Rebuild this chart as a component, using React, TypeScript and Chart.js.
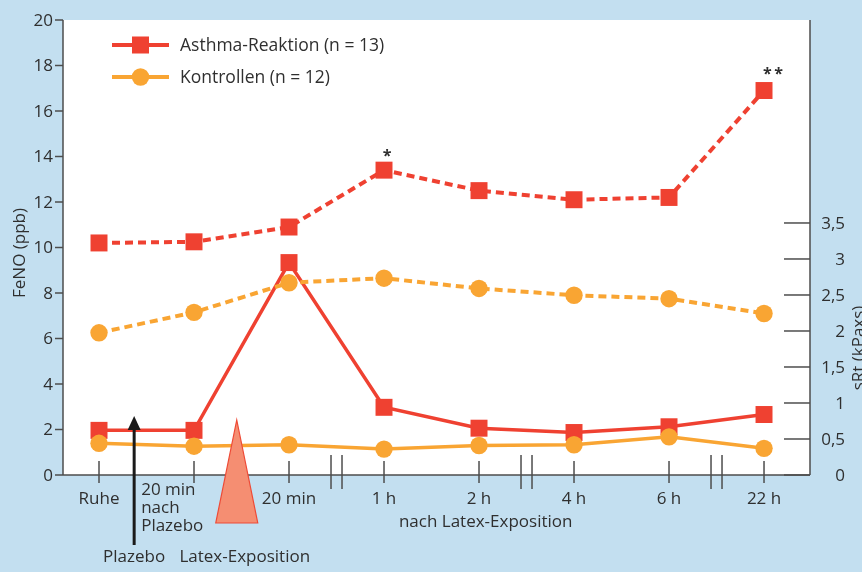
import React, { useEffect, useRef } from "react";
import { Chart, registerables } from "chart.js";

Chart.register(...registerables);

// Time points (category order along the x axis)
const timepoints = ["Ruhe", "20 min nach Plazebo", "20 min", "1 h", "2 h", "4 h", "6 h", "22 h"];
const tickLabelLines: string[][] = [
  ["Ruhe"],
  ["20 min", "nach", "Plazebo"],
  ["20 min"],
  ["1 h"],
  ["2 h"],
  ["4 h"],
  ["6 h"],
  ["22 h"],
];

// FeNO (ppb), left axis
const fenoAsthma = [10.2, 10.25, 10.9, 13.4, 12.5, 12.1, 12.2, 16.9];
const fenoControl = [6.25, 7.15, 8.45, 8.65, 8.2, 7.9, 7.75, 7.1];

// sRt (kPa·s), right axis
const srtAsthma = [0.62, 0.62, 2.95, 0.94, 0.65, 0.59, 0.67, 0.84];
const srtControl = [0.44, 0.4, 0.42, 0.36, 0.41, 0.42, 0.53, 0.37];

const fenoTicks = [0, 2, 4, 6, 8, 10, 12, 14, 16, 18, 20];
const srtTicks = [0, 0.5, 1, 1.5, 2, 2.5, 3, 3.5];
const srtTickLabels = ["0", "0,5", "1", "1,5", "2", "2,5", "3", "3,5"];

// axis is broken between these time points and the next one
const axisBreaksAfter = [2, 4, 6];

// significance marks on the FeNO asthma series
const significance = [
  { index: 3, label: "*" },
  { index: 7, label: "*\u2009*" },
];

const legendEntries = [
  { label: "Asthma-Reaktion (n = 13)", kind: "rect" },
  { label: "Kontrollen (n = 12)", kind: "circle" },
];

const BLUE = "#c3dff0";
const RED = "#ef4131";
const ORANGE = "#f9a533";
const INK = "#2f2f2f";
const AXIS = "#4d4d4d";
const FONT = '"Open Sans", "DejaVu Sans", sans-serif';

const toPoints = (vals: number[]) => vals.map((v, i) => ({ x: i, y: v }));

function strokeLine(ctx: CanvasRenderingContext2D, x1: number, y1: number, x2: number, y2: number) {
  ctx.beginPath();
  ctx.moveTo(x1, y1);
  ctx.lineTo(x2, y2);
  ctx.stroke();
}

const framePlugin = {
  id: "frame",
  beforeDraw(chart: any) {
    const { ctx, chartArea: a, width, height } = chart;
    ctx.save();
    ctx.fillStyle = BLUE;
    ctx.fillRect(0, 0, width, height);
    ctx.fillStyle = "#ffffff";
    ctx.fillRect(a.left, a.top, a.right - a.left, a.bottom - a.top);
    ctx.restore();
  },
  afterDatasetsDraw(chart: any) {
    const { ctx, chartArea: a, scales } = chart;
    const xs = scales.x;
    const yL = scales.yL;
    const yR = scales.yR;
    ctx.save();

    // axis lines
    ctx.strokeStyle = AXIS;
    ctx.lineWidth = 1.5;
    strokeLine(ctx, a.left, a.top, a.left, a.bottom);
    strokeLine(ctx, a.left, a.bottom, a.right, a.bottom);
    strokeLine(ctx, a.right, a.top, a.right, a.bottom);

    // left axis ticks and labels
    ctx.font = `17px ${FONT}`;
    ctx.fillStyle = INK;
    ctx.textAlign = "right";
    ctx.textBaseline = "middle";
    fenoTicks.forEach((v) => {
      const py = yL.getPixelForValue(v);
      strokeLine(ctx, a.left - 8, py, a.left, py);
      ctx.fillText(String(v), a.left - 10, py + 1);
    });

    // right axis ticks (inside) and labels
    srtTicks.forEach((v, i) => {
      const py = yR.getPixelForValue(v);
      strokeLine(ctx, a.right - 26, py, a.right, py);
      ctx.fillText(srtTickLabels[i], a.right + 35, py + 1);
    });

    // x axis ticks
    timepoints.forEach((_, i) => {
      const px = xs.getPixelForValue(i);
      strokeLine(ctx, px, a.bottom - 14, px, a.bottom + 8);
    });

    // axis breaks
    axisBreaksAfter.forEach((b) => {
      const cx = xs.getPixelForValue(b + 0.5);
      strokeLine(ctx, cx - 5.5, a.bottom - 20, cx - 5.5, a.bottom + 14);
      strokeLine(ctx, cx + 5.5, a.bottom - 20, cx + 5.5, a.bottom + 14);
    });

    // placebo arrow
    const arrowX = xs.getPixelForValue(0.37);
    ctx.strokeStyle = "#1a1a1a";
    ctx.fillStyle = "#1a1a1a";
    ctx.lineWidth = 3;
    strokeLine(ctx, arrowX, a.bottom + 70, arrowX, a.bottom - 48);
    ctx.beginPath();
    ctx.moveTo(arrowX, a.bottom - 59);
    ctx.lineTo(arrowX - 6.5, a.bottom - 45);
    ctx.lineTo(arrowX + 6.5, a.bottom - 45);
    ctx.closePath();
    ctx.fill();

    // latex exposure wedge
    const triX = xs.getPixelForValue(1.45);
    ctx.beginPath();
    ctx.moveTo(triX, a.bottom - 55);
    ctx.lineTo(triX + 21, a.bottom + 48);
    ctx.lineTo(triX - 21, a.bottom + 48);
    ctx.closePath();
    ctx.fillStyle = "#f58e72";
    ctx.fill();
    ctx.strokeStyle = "#ee4a36";
    ctx.lineWidth = 1.2;
    ctx.stroke();

    // x tick labels
    ctx.fillStyle = INK;
    ctx.font = `17px ${FONT}`;
    ctx.textBaseline = "alphabetic";
    tickLabelLines.forEach((lines, i) => {
      const px = xs.getPixelForValue(i);
      if (lines.length > 1) {
        ctx.textAlign = "left";
        lines.forEach((t, k) => ctx.fillText(t, arrowX + 7, a.bottom + 20 + k * 18));
      } else {
        ctx.textAlign = "center";
        ctx.fillText(lines[0], px, a.bottom + 29);
      }
    });

    ctx.textAlign = "center";
    ctx.fillText("nach Latex-Exposition", xs.getPixelForValue(4.07), a.bottom + 52);
    ctx.fillText("Plazebo", arrowX, a.bottom + 87);
    ctx.fillText("Latex-Exposition", triX + 8, a.bottom + 87);

    // axis titles
    ctx.save();
    ctx.translate(25, 253);
    ctx.rotate(-Math.PI / 2);
    ctx.textAlign = "center";
    ctx.textBaseline = "alphabetic";
    ctx.fillText("FeNO (ppb)", 0, 0);
    ctx.restore();

    ctx.save();
    ctx.translate(864, 348);
    ctx.rotate(-Math.PI / 2);
    ctx.textAlign = "center";
    ctx.textBaseline = "alphabetic";
    ctx.fillText("sRt (kPaxs)", 0, 0);
    ctx.restore();

    // significance marks
    ctx.font = `bold 16px ${FONT}`;
    ctx.textAlign = "center";
    significance.forEach((s) => {
      const px = xs.getPixelForValue(s.index);
      const py = yL.getPixelForValue(fenoAsthma[s.index]);
      const dx = s.label.length > 1 ? 9 : 3;
      const dy = s.label.length > 1 ? 12 : 9;
      ctx.fillText(s.label, px + dx, py - dy);
    });

    // legend
    ctx.font = `17.5px ${FONT}`;
    ctx.textAlign = "left";
    legendEntries.forEach((e, i) => {
      const ly = a.top + 25 + i * 32;
      const lx = a.left + 49;
      const color = e.kind === "rect" ? RED : ORANGE;
      ctx.strokeStyle = color;
      ctx.fillStyle = color;
      ctx.lineWidth = 4;
      strokeLine(ctx, lx, ly, lx + 57, ly);
      if (e.kind === "rect") {
        ctx.fillRect(lx + 28.5 - 8.5, ly - 8.5, 17, 17);
      } else {
        ctx.beginPath();
        ctx.arc(lx + 28.5, ly, 8.7, 0, Math.PI * 2);
        ctx.fill();
      }
      ctx.fillStyle = INK;
      ctx.fillText(e.label, lx + 68, ly + 6);
    });

    ctx.restore();
  },
};

export default function App() {
  const canvasRef = useRef<HTMLCanvasElement | null>(null);

  useEffect(() => {
    const canvas = canvasRef.current;
    if (!canvas) return;
    const solid = { borderWidth: 3.5, tension: 0, pointBorderWidth: 0 };
    const dashed = { borderWidth: 4, borderDash: [8, 5], tension: 0, pointBorderWidth: 0 };
    const chart = new Chart(canvas, {
      type: "line",
      data: {
        datasets: [
          {
            label: "Kontrollen sRt",
            data: toPoints(srtControl),
            yAxisID: "yR",
            borderColor: ORANGE,
            backgroundColor: ORANGE,
            pointBackgroundColor: ORANGE,
            pointStyle: "circle",
            pointRadius: 8.7,
            ...solid,
          },
          {
            label: "Kontrollen FeNO",
            data: toPoints(fenoControl),
            yAxisID: "yL",
            borderColor: ORANGE,
            backgroundColor: ORANGE,
            pointBackgroundColor: ORANGE,
            pointStyle: "circle",
            pointRadius: 8.7,
            ...dashed,
          },
          {
            label: "Asthma-Reaktion sRt",
            data: toPoints(srtAsthma),
            yAxisID: "yR",
            borderColor: RED,
            backgroundColor: RED,
            pointBackgroundColor: RED,
            pointStyle: "rect",
            pointRadius: 12,
            ...solid,
          },
          {
            label: "Asthma-Reaktion FeNO",
            data: toPoints(fenoAsthma),
            yAxisID: "yL",
            borderColor: RED,
            backgroundColor: RED,
            pointBackgroundColor: RED,
            pointStyle: "rect",
            pointRadius: 12,
            ...dashed,
          },
        ],
      },
      options: {
        animation: false,
        responsive: false,
        devicePixelRatio: 1,
        layout: { padding: { left: 63, right: 52, top: 20, bottom: 97 } },
        plugins: { legend: { display: false }, tooltip: { enabled: false } },
        scales: {
          x: { type: "linear", min: -0.379, max: 7.484, display: false },
          yL: { type: "linear", position: "left", min: 0, max: 20, display: false },
          yR: { type: "linear", position: "right", min: 0, max: 6.319, display: false },
        },
      },
      plugins: [framePlugin],
    } as any);
    return () => chart.destroy();
  }, []);

  return (
    <div style={{ position: "absolute", left: 0, top: 0, width: 862, height: 572 }}>
      <canvas ref={canvasRef} width={862} height={572} style={{ width: 862, height: 572, display: "block" }} />
    </div>
  );
}
